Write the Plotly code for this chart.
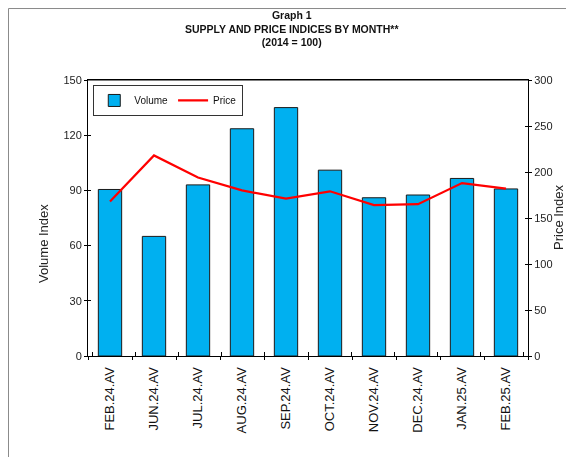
import plotly.graph_objects as go

months = ["FEB.24.AV", "JUN.24.AV", "JUL.24.AV", "AUG.24.AV", "SEP.24.AV",
          "OCT.24.AV", "NOV.24.AV", "DEC.24.AV", "JAN.25.AV", "FEB.25.AV"]
volume = [90.5, 65, 93, 123.5, 135, 101, 86, 87.5, 96.5, 90.8]
price = [168, 218, 194, 180, 171, 179, 164, 165, 188, 182]

FONT = "Liberation Sans, Arial, sans-serif"

fig = go.Figure()
fig.add_trace(go.Bar(
    x=months, y=volume, name="Volume", width=0.53,
    marker=dict(color="#00B0F0", line=dict(color="#1a1a1a", width=1)),
    xaxis="x", yaxis="y"))
fig.add_trace(go.Scatter(
    x=months, y=price, name="Price", mode="lines",
    line=dict(color="#FF0000", width=2.2), xaxis="x", yaxis="y2"))
# invisible helper traces for inner tick marks (crossing ticks)
fig.add_trace(go.Scatter(x=months, y=volume, mode="markers", opacity=0,
                         showlegend=False, hoverinfo="skip",
                         xaxis="x2", yaxis="y3"))
fig.add_trace(go.Scatter(x=months, y=price, mode="markers", opacity=0,
                         showlegend=False, hoverinfo="skip",
                         xaxis="x2", yaxis="y4"))

axis_common = dict(showgrid=False, zeroline=False, linecolor="black",
                   linewidth=1, tickcolor="black", ticklen=3)
ytickfont = dict(family=FONT, size=11, color="#222")

# page has an 8px body margin: figure is offset by 8px right and down
fig.update_layout(
    width=566, height=449,
    margin=dict(l=80, r=46, t=72, b=101),
    paper_bgcolor="white", plot_bgcolor="rgba(0,0,0,0)",
    font=dict(family=FONT, color="#222"),
    showlegend=True,
    legend=dict(orientation="h", x=0.012, y=0.982, xanchor="left", yanchor="top",
                bordercolor="#333", borderwidth=1, bgcolor="white",
                font=dict(family=FONT, size=10, color="#111"),
                itemwidth=30, tracegroupgap=0),
    xaxis=dict(**axis_common, type="category", ticks="outside", tickson="boundaries",
               tickangle=-90, mirror=True, ticklabelstandoff=5,
               tickfont=dict(family=FONT, size=13, color="#111")),
    yaxis=dict(**axis_common, range=[0, 150], dtick=30, ticks="outside",
               tickfont=ytickfont),
    yaxis2=dict(**axis_common, range=[0, 300], dtick=50, ticks="outside",
                overlaying="y", side="right", anchor="x", tickfont=ytickfont),
    xaxis2=dict(type="category", overlaying="x", side="bottom", anchor="y3",
                ticks="inside", tickson="boundaries", ticklen=4, tickcolor="black",
                showticklabels=False, showgrid=False, zeroline=False, showline=False),
    yaxis3=dict(range=[0, 150], dtick=30, ticks="inside", ticklen=3,
                tickcolor="black", showticklabels=False, showgrid=False,
                zeroline=False, showline=False, overlaying="y", anchor="x2"),
    yaxis4=dict(range=[0, 300], dtick=50, ticks="inside", ticklen=3,
                tickcolor="black", showticklabels=False, showgrid=False,
                zeroline=False, showline=False, overlaying="y", side="right",
                anchor="x2"),
)

# top border of the plot box
fig.add_shape(type="line", xref="paper", yref="paper", x0=0, x1=1, y0=1, y1=1,
              line=dict(color="black", width=1))
# outer frame lines (left and top) of the surrounding page box
fig.add_shape(type="line", xref="paper", yref="paper", x0=-0.1807, x1=-0.1807,
              y0=-0.4, y1=1.259, line=dict(color="#8a8a8a", width=1))
fig.add_shape(type="line", xref="paper", yref="paper", x0=-0.1807, x1=1.2,
              y0=1.259, y1=1.259, line=dict(color="#8a8a8a", width=1))

fig.add_annotation(text="<b>Graph 1</b><br><b>SUPPLY AND PRICE INDICES BY MONTH**</b><br><b>(2014 = 100)</b>",
                   xref="paper", yref="paper", x=(292 - 88) / 440, y=(356 - 7) / 276,
                   xanchor="center", yanchor="top", showarrow=False,
                   font=dict(family=FONT, size=10.5, color="#111"))
fig.add_annotation(text="Volume Index", textangle=-90, xref="paper", yref="paper",
                   x=(43 - 88) / 440, y=(356 - 244) / 276, showarrow=False,
                   xanchor="center", yanchor="middle",
                   font=dict(family=FONT, size=13, color="#222"))
fig.add_annotation(text="Price Index", textangle=-90, xref="paper", yref="paper",
                   x=(558 - 88) / 440, y=(356 - 217) / 276, showarrow=False,
                   xanchor="center", yanchor="middle",
                   font=dict(family=FONT, size=13, color="#222"))

fig.write_html("out.html")
